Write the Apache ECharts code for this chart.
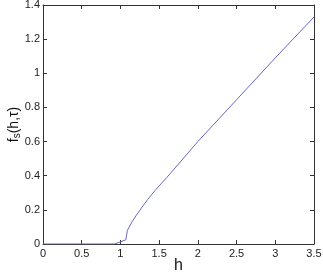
<!DOCTYPE html>
<html>
<head>
<meta charset="utf-8">
<script src="https://cdn.jsdelivr.net/npm/echarts@6/dist/echarts.min.js"></script>
<style>
  html, body { margin: 0; padding: 0; background: #fff; }
  #main { width: 323px; height: 272px; }
</style>
</head>
<body>
<div id="main"></div>
<script>
// data
const hValues = [0, 0.5, 0.92, 1.0, 1.07, 1.09, 1.15, 1.2, 1.27, 1.35, 1.45, 1.6, 2.0, 2.5, 3.0, 3.5];
const fsValues = [0, 0, 0, 0.012, 0.025, 0.08, 0.13, 0.165, 0.21, 0.26, 0.315, 0.39, 0.6, 0.845, 1.09, 1.33];
const xTicks = [0, 0.5, 1, 1.5, 2, 2.5, 3, 3.5];
const yTicks = [0, 0.2, 0.4, 0.6, 0.8, 1, 1.2, 1.4];

const font = 'Liberation Sans, Arial, sans-serif';
const axisColor = '#333';

const myChart = echarts.init(document.getElementById('main'));

const frameAxis = {
    axisLine: { show: true, onZero: false, lineStyle: { color: axisColor, width: 1 } },
    axisTick: { show: true, inside: true, length: 4, lineStyle: { color: axisColor } },
    splitLine: { show: false }
};

const option = {
    animation: false,
    grid: { left: 43, top: 5, right: 9, bottom: 28, containLabel: false, outerBoundsMode: 'none' },
    xAxis: [
        {
            type: 'value', min: xTicks[0], max: xTicks[xTicks.length - 1], interval: 0.5,
            ...frameAxis,
            axisLabel: {
                color: '#222', fontSize: 11, fontFamily: font, margin: 4,
                formatter: v => String(v)
            },
            name: 'h', nameLocation: 'middle', nameGap: 14, nameMoveOverlap: false,
            nameTextStyle: { color: '#111', fontSize: 16, fontFamily: font }
        },
        {
            type: 'value', position: 'top', min: xTicks[0], max: xTicks[xTicks.length - 1], interval: 0.5,
            ...frameAxis, axisLabel: { show: false }
        }
    ],
    yAxis: [
        {
            type: 'value', min: yTicks[0], max: yTicks[yTicks.length - 1], interval: 0.2,
            ...frameAxis,
            axisLabel: {
                color: '#222', fontSize: 11, fontFamily: font, margin: 3,
                formatter: v => String(Math.round(v * 10) / 10)
            },
            name: '{f|f}{s|s}{f|(h,τ)}', nameLocation: 'middle', nameGap: 21, nameRotate: 90,
            nameMoveOverlap: false,
            nameTextStyle: {
                rich: {
                    f: { fontSize: 14, fontFamily: font, color: '#111' },
                    s: { fontSize: 10, fontFamily: font, color: '#111', verticalAlign: 'bottom', padding: [6, 0, 0, 0] }
                }
            }
        },
        {
            type: 'value', position: 'right', min: yTicks[0], max: yTicks[yTicks.length - 1], interval: 0.2,
            ...frameAxis, axisLabel: { show: false }
        }
    ],
    series: [
        {
            type: 'line',
            data: hValues.map((h, i) => [h, fsValues[i]]),
            showSymbol: false,
            smooth: false,
            lineStyle: { color: '#6767c9', width: 1 },
            itemStyle: { color: '#6767c9' }
        }
    ]
};

myChart.setOption(option);
</script>
</body>
</html>
